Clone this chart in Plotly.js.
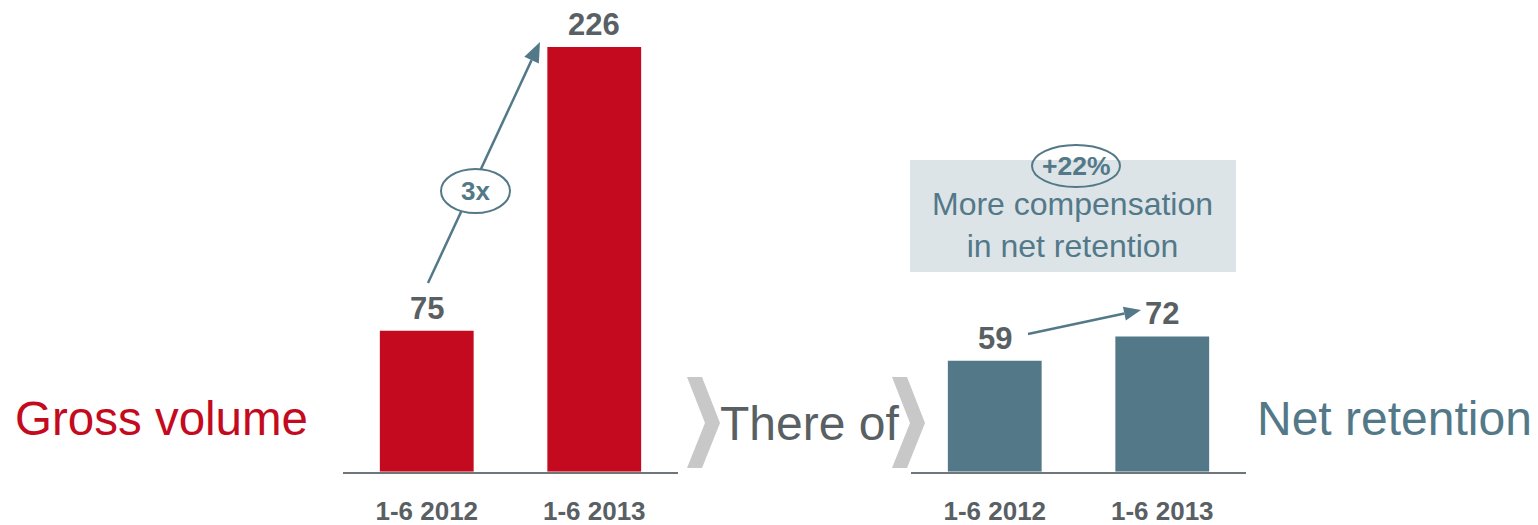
<!DOCTYPE html>
<html>
<head>
<meta charset="utf-8">
<script src="https://cdn.plot.ly/plotly-3.0.1.min.js"></script>
<style>html,body{margin:0;padding:0;background:#fff;}#chart{width:1538px;height:525px;}</style>
</head>
<body>
<div id="chart"></div>
<script>
// ---- data ----
const categories = ['1-6 2012', '1-6 2013'];
const grossVolume = [75, 226];
const netRetention = [59, 72];
const grossLabel = 'Gross volume';
const netLabel = 'Net retention';
const middleLabel = 'There of';
const growthGross = '3x';
const growthNet = '+22%';
const boxText = 'More compensation<br>in net retention';

// ---- style ----
const W = 1538, H = 525;
const RED = '#c40a1e', TEAL = '#537989', GRAY = '#596064', CHEV = '#c8c8c8', BOXC = '#dde4e8';
const FONT = 'Liberation Sans, Arial, sans-serif';
const px = x => x / W;
const py = y => 1 - y / H;

const traces = [
  {type: 'bar', x: categories, y: grossVolume, marker: {color: RED}, width: 0.56,
   xaxis: 'x', yaxis: 'y', hoverinfo: 'skip'},
  {type: 'bar', x: categories, y: netRetention, marker: {color: TEAL}, width: 0.56,
   xaxis: 'x2', yaxis: 'y2', hoverinfo: 'skip'}
];

function valueLabels(vals, xr, yr) {
  return vals.map((v, i) => ({
    x: categories[i], y: v, xref: xr, yref: yr, text: String(v), showarrow: false,
    yanchor: 'bottom', yshift: 3,
    font: {family: FONT, size: 31, color: GRAY, weight: 'bold'}
  }));
}

function textAnn(t, x, y, size, color, xanchor, bold) {
  return {text: t, x: px(x), y: py(y), xref: 'paper', yref: 'paper', showarrow: false,
    xanchor: xanchor, yanchor: 'middle',
    font: {family: FONT, size: size, color: color, weight: bold ? 'bold' : 'normal'}};
}

function chevron(x) {
  const pts = [[x, 377], [x + 15, 377], [x + 33, 423], [x + 15, 468], [x, 468], [x + 18, 423]];
  return {type: 'path', xref: 'paper', yref: 'paper', line: {width: 0}, fillcolor: CHEV,
    path: 'M ' + pts.map(p => px(p[0]) + ',' + py(p[1])).join(' L ') + ' Z'};
}

function arrowParts(x0, y0, x1, y1, len, hw) {
  const dx = x1 - x0, dy = y1 - y0, L = Math.hypot(dx, dy);
  const ux = dx / L, uy = dy / L, nx = -uy, ny = ux;
  const bx = x1 - ux * len, by = y1 - uy * len;
  const line = {type: 'line', xref: 'paper', yref: 'paper', x0: px(x0), y0: py(y0),
    x1: px(bx), y1: py(by), line: {color: TEAL, width: 2.5}};
  const head = {type: 'path', xref: 'paper', yref: 'paper', line: {width: 0}, fillcolor: TEAL,
    path: 'M ' + px(x1) + ',' + py(y1) + ' L ' + px(bx + nx * hw) + ',' + py(by + ny * hw) +
      ' L ' + px(bx - nx * hw) + ',' + py(by - ny * hw) + ' Z'};
  return [line, head];
}

const a1 = arrowParts(428, 283, 540, 42, 20, 8);
const a2 = arrowParts(1028, 334, 1141, 310, 17, 7);

const shapes = [
  {type: 'rect', xref: 'paper', yref: 'paper', x0: px(910), x1: px(1236), y0: py(160), y1: py(272),
   fillcolor: BOXC, line: {width: 0}, layer: 'below'},
  chevron(687), chevron(892),
  a1[0], a2[0],
  {type: 'circle', xref: 'paper', yref: 'paper', x0: px(441), x1: px(510), y0: py(169), y1: py(213),
   fillcolor: '#ffffff', line: {color: TEAL, width: 2}},
  a1[1], a2[1],
  {type: 'circle', xref: 'paper', yref: 'paper', x0: px(1032), x1: px(1120), y0: py(145), y1: py(187),
   fillcolor: 'rgba(0,0,0,0)', line: {color: TEAL, width: 2}}
];

const annotations = [
  ...valueLabels(grossVolume, 'x', 'y'),
  ...valueLabels(netRetention, 'x2', 'y2'),
  textAnn(grossLabel, 13, 418, 47.5, RED, 'left', false),
  textAnn(middleLabel, 718, 423, 48, GRAY, 'left', false),
  textAnn(netLabel, 1255, 418, 48, TEAL, 'left', false),
  textAnn(boxText, 1072, 225, 32, TEAL, 'center', false),
  textAnn(growthNet, 1076, 166, 26.5, TEAL, 'center', true),
  textAnn(growthGross, 475, 191, 26, TEAL, 'center', true)
];

const xBase = {type: 'category', range: [-0.5, 1.5], showline: true, linecolor: '#6e7679', linewidth: 2,
  ticks: '', showgrid: false, zeroline: false, fixedrange: true, ticklabelstandoff: 15,
  tickfont: {family: FONT, size: 26, color: GRAY, weight: 'bold'}};
const yBase = {range: [0, 251], visible: false, showgrid: false, zeroline: false,
  domain: [1 - 471.7 / H, 1], fixedrange: true};

const layout = {
  width: W, height: H, margin: {l: 0, r: 0, t: 0, b: 0},
  paper_bgcolor: '#ffffff', plot_bgcolor: 'rgba(0,0,0,0)', showlegend: false,
  xaxis: Object.assign({}, xBase, {domain: [px(343), px(678)], anchor: 'y'}),
  yaxis: Object.assign({}, yBase, {anchor: 'x'}),
  xaxis2: Object.assign({}, xBase, {domain: [px(911), px(1246)], anchor: 'y2'}),
  yaxis2: Object.assign({}, yBase, {anchor: 'x2'}),
  shapes: shapes, annotations: annotations,
  font: {family: FONT}
};

Plotly.newPlot('chart', traces, layout, {staticPlot: true, displayModeBar: false});
</script>
</body>
</html>
